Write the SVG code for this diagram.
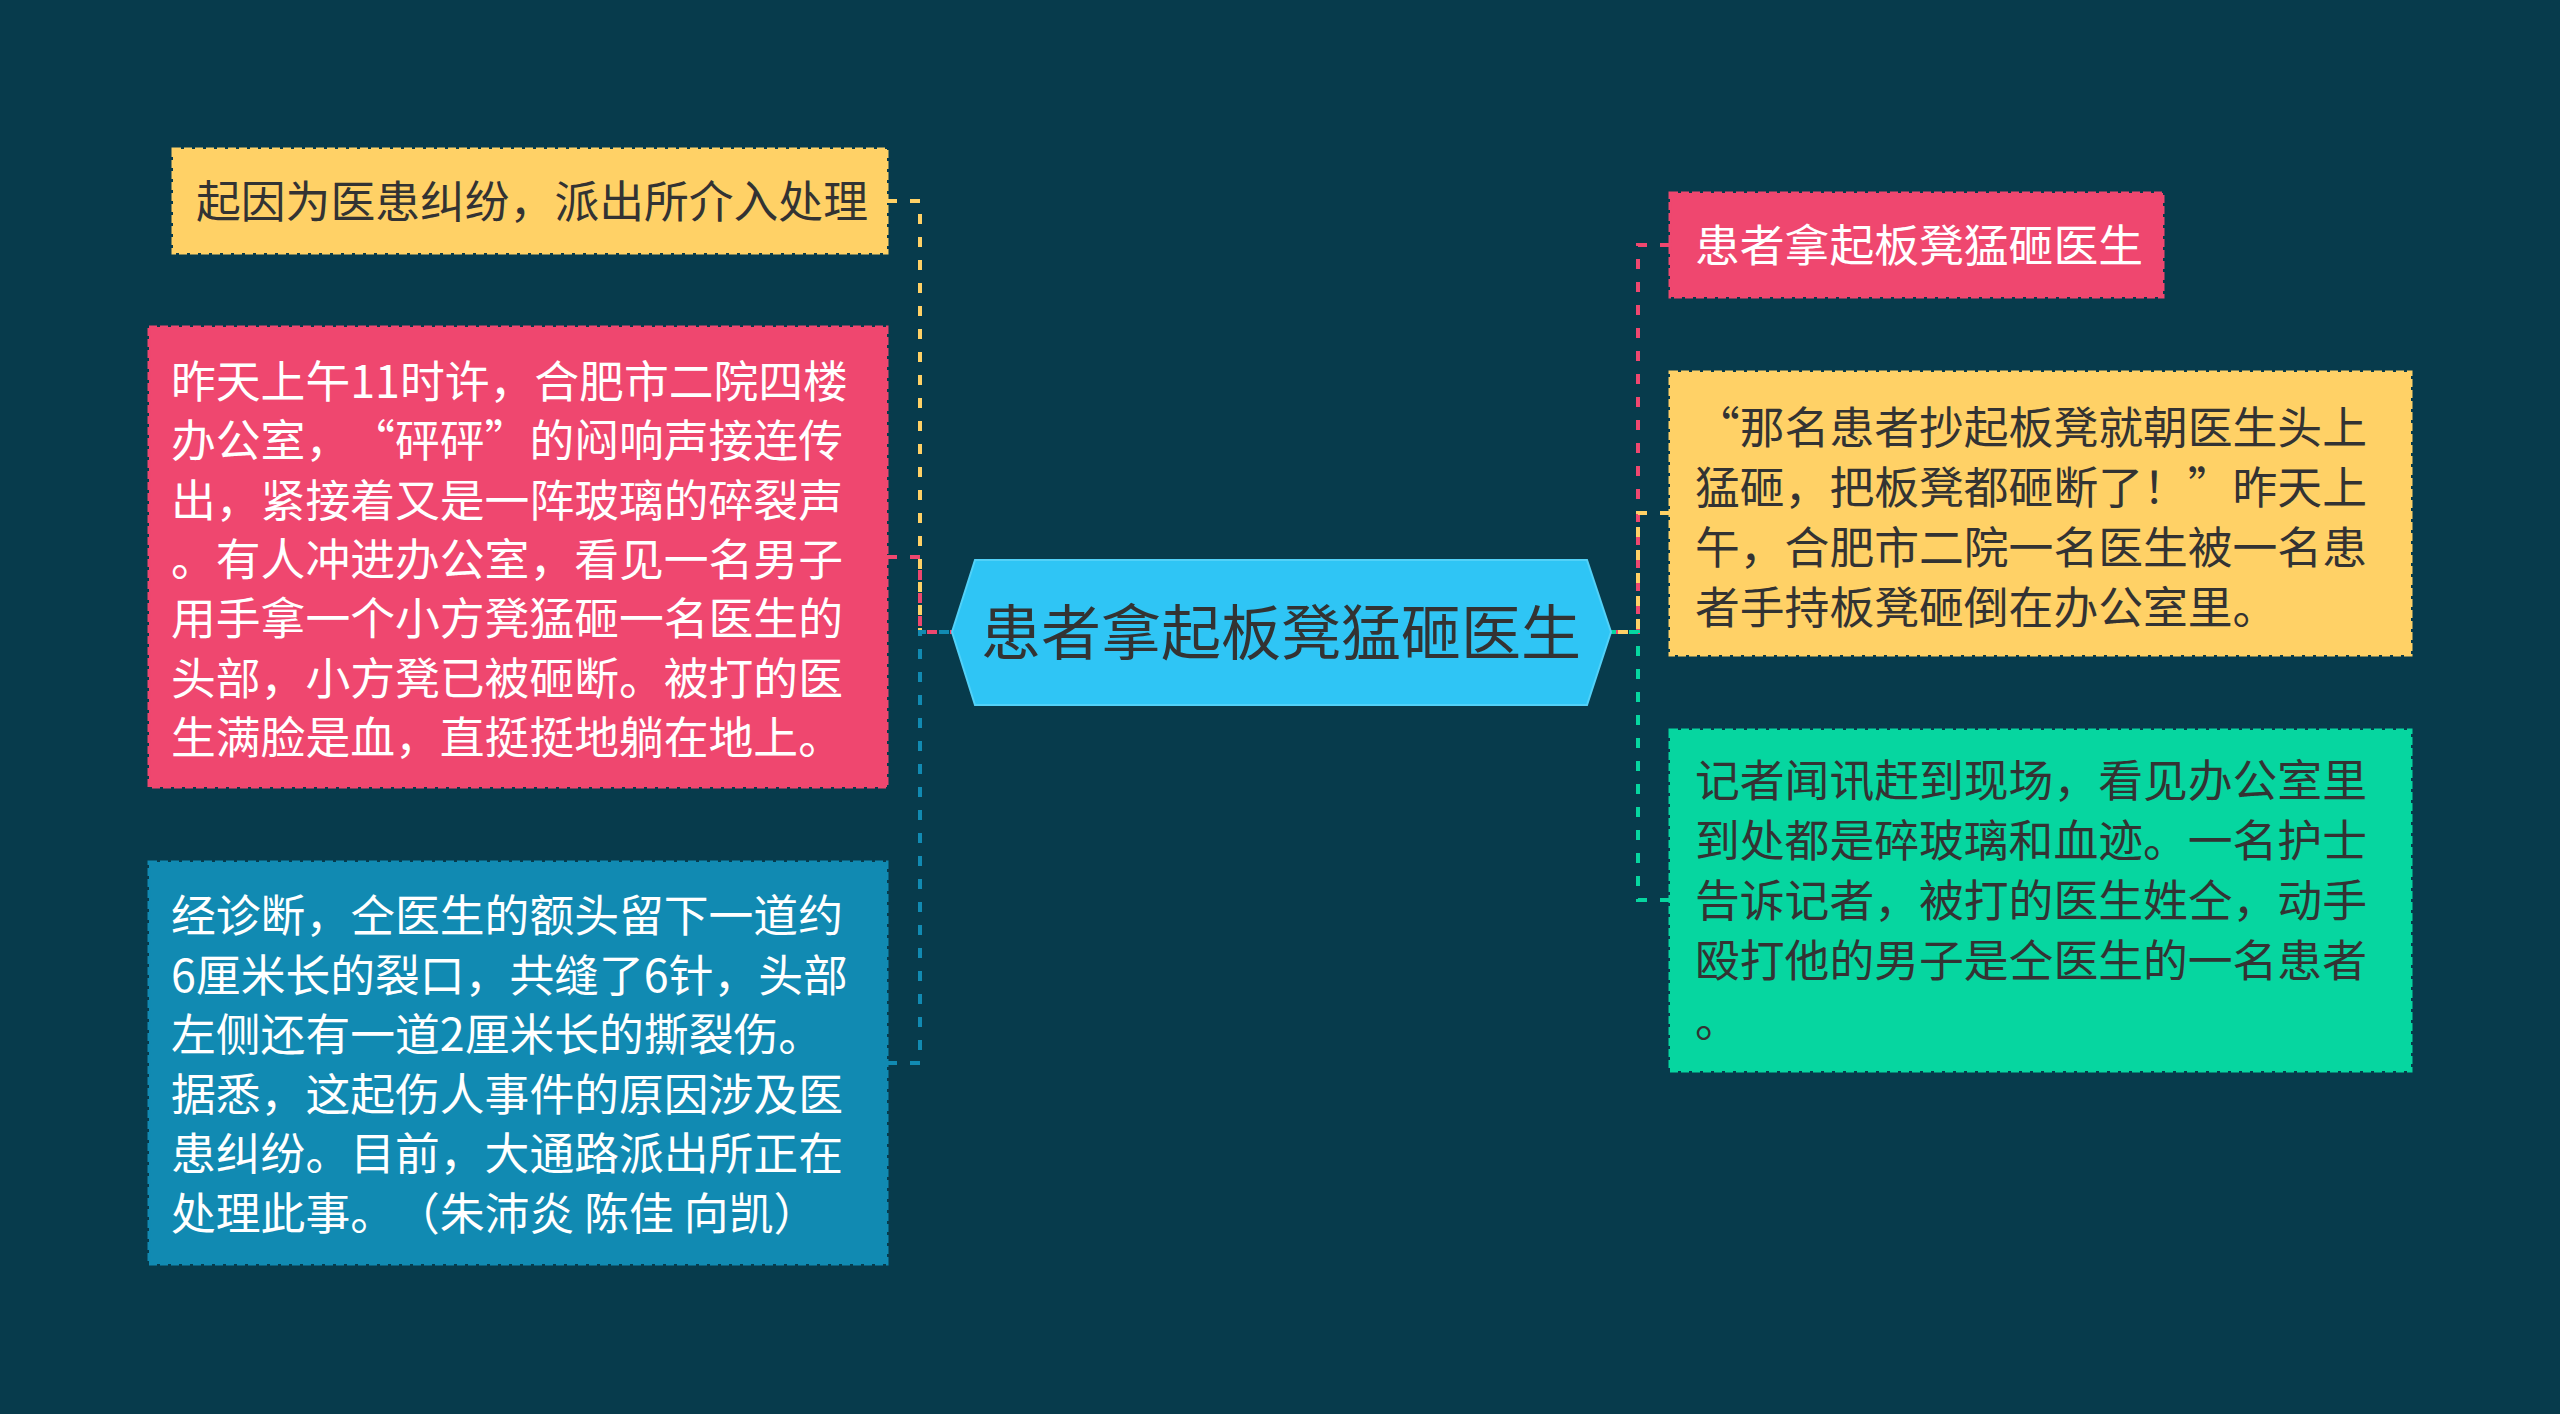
<svg xmlns="http://www.w3.org/2000/svg" width="2560" height="1414" viewBox="0 0 2560 1414" xml:lang="zh-CN">
<style>
.bg{fill:#073b4c}
.t{font-family:"Noto Sans CJK SC","Noto Sans",sans-serif;font-size:44.8px;text-spacing-trim:space-all}
.dark{fill:#333333}
.light{fill:#ffffff}
.box{stroke-width:3;stroke-dasharray:8 3}
.y{fill:#ffd166;stroke:#ffd166}
.p{fill:#ef476f;stroke:#ef476f}
.b{fill:#118ab2;stroke:#118ab2}
.g{fill:#06d6a0;stroke:#06d6a0}
.c{fill:none;stroke-width:4;stroke-dasharray:10 13}
</style>
<rect class="bg" x="0" y="0" width="2560" height="1414"/>
<g id="connectors">
<path class="c" stroke="#ffd166" d="M887,201 H920 V632 H952"/>
<path class="c" stroke="#ef476f" d="M887,557 H920 V632 H952"/>
<path class="c" stroke="#118ab2" d="M887,1063 H920 V632 H952"/>
<path class="c" stroke="#ef476f" d="M1670,245 H1638 V632 H1611"/>
<path class="c" stroke="#ffd166" d="M1670,513 H1638 V632 H1611"/>
<path class="c" stroke="#06d6a0" d="M1670,900 H1638 V632 H1611"/>
</g>
<g id="center">
<polygon points="952,632 975,560 1587,560 1611,632 1587,705 975,705" fill="#2fc5f5" stroke="#52d1f8" stroke-width="2"/>
<text class="t dark" x="1281" y="655" text-anchor="middle" style="font-size:60px">患者拿起板凳猛砸医生</text>
</g>
<g id="node-l1">
<rect class="box y" x="173" y="149" width="714" height="104"/>
<text class="t dark" x="196" y="218">起因为医患纠纷，派出所介入处理</text>
</g>
<g id="node-l2">
<rect class="box p" x="149" y="327" width="738" height="460"/>
<text class="t light" x="171" y="398">
<tspan x="171" dy="0">昨天上午11时许，合肥市二院四楼</tspan>
<tspan x="171" dy="59.3">办公室，“砰砰”的闷响声接连传</tspan>
<tspan x="171" dy="59.3">出，紧接着又是一阵玻璃的碎裂声</tspan>
<tspan x="171" dy="59.3">。有人冲进办公室，看见一名男子</tspan>
<tspan x="171" dy="59.3">用手拿一个小方凳猛砸一名医生的</tspan>
<tspan x="171" dy="59.3">头部，小方凳已被砸断。被打的医</tspan>
<tspan x="171" dy="59.3">生满脸是血，直挺挺地躺在地上。</tspan>
</text>
</g>
<g id="node-l3">
<rect class="box b" x="149" y="862" width="738" height="402"/>
<text class="t light" x="171" y="932">
<tspan x="171" dy="0">经诊断，仝医生的额头留下一道约</tspan>
<tspan x="171" dy="59.6">6厘米长的裂口，共缝了6针，头部</tspan>
<tspan x="171" dy="59.6">左侧还有一道2厘米长的撕裂伤。</tspan>
<tspan x="171" dy="59.6">据悉，这起伤人事件的原因涉及医</tspan>
<tspan x="171" dy="59.6">患纠纷。目前，大通路派出所正在</tspan>
<tspan x="171" dy="59.6">处理此事。（朱沛炎 陈佳 向凯）</tspan>
</text>
</g>
<g id="node-r1">
<rect class="box p" x="1670" y="193" width="493" height="104"/>
<text class="t light" x="1695" y="262">患者拿起板凳猛砸医生</text>
</g>
<g id="node-r2">
<rect class="box y" x="1670" y="372" width="741" height="283"/>
<text class="t dark" x="1695" y="444">
<tspan x="1695" dy="0">“那名患者抄起板凳就朝医生头上</tspan>
<tspan x="1695" dy="60">猛砸，把板凳都砸断了！”昨天上</tspan>
<tspan x="1695" dy="60">午，合肥市二院一名医生被一名患</tspan>
<tspan x="1695" dy="60">者手持板凳砸倒在办公室里。</tspan>
</text>
</g>
<g id="node-r3">
<rect class="box g" x="1670" y="730" width="741" height="341"/>
<text class="t dark" x="1695" y="797">
<tspan x="1695" dy="0">记者闻讯赶到现场，看见办公室里</tspan>
<tspan x="1695" dy="60">到处都是碎玻璃和血迹。一名护士</tspan>
<tspan x="1695" dy="60">告诉记者，被打的医生姓仝，动手</tspan>
<tspan x="1695" dy="60">殴打他的男子是仝医生的一名患者</tspan>
<tspan x="1695" dy="60">。</tspan>
</text>
</g>
</svg>
